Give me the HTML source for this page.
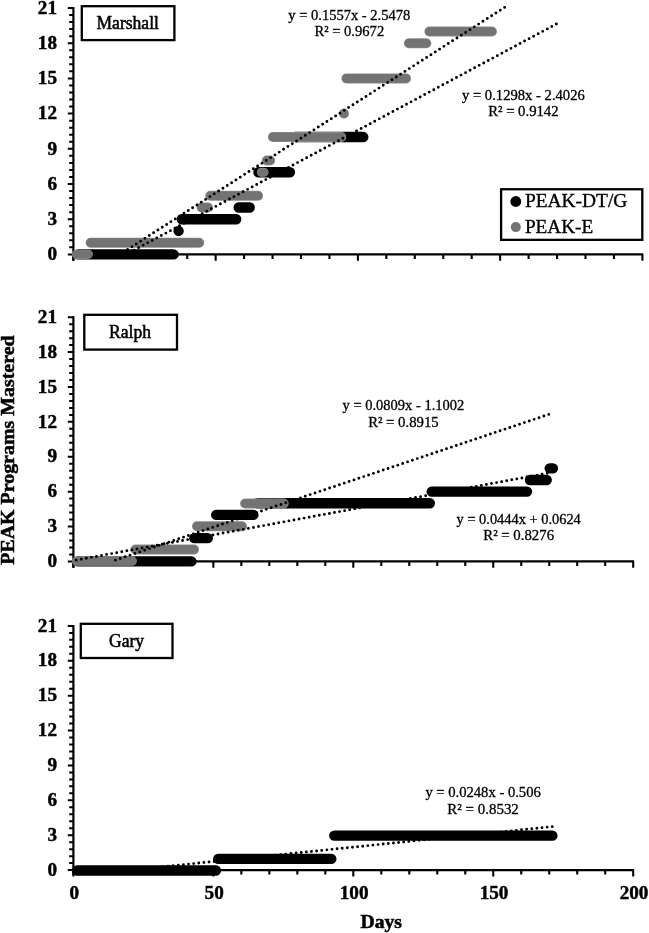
<!DOCTYPE html>
<html lang="en"><head><meta charset="utf-8"><title>PEAK Programs Mastered</title>
<style>html,body{margin:0;padding:0;background:#fff}svg{display:block}text{font-family:"Liberation Serif","Times New Roman",Times,serif;fill:#000}.b{font-weight:bold;font-size:18.8px;stroke:#000;stroke-width:.45px}.t{font-weight:bold;font-size:18.8px;stroke:#000;stroke-width:.5px}.n{font-size:18.5px;stroke:#000;stroke-width:.55px}.e{font-size:14.4px;stroke:#000;stroke-width:.3px}.l{font-size:19.5px;stroke:#000;stroke-width:.35px}</style>
</head><body>
<svg width="649" height="933" viewBox="0 0 649 933">
<rect width="649" height="933" fill="#fff"/>
<line x1="73.40" y1="7.10" x2="73.40" y2="260.80" stroke="#000" stroke-width="2.2"/>
<line x1="73.40" y1="254.40" x2="643.20" y2="254.40" stroke="#000" stroke-width="2.1"/>
<path d="M73.40 254.40h-5.6M73.40 247.36h-4.2M73.40 240.32h-4.2M73.40 233.28h-4.2M73.40 226.24h-4.2M73.40 219.20h-5.6M73.40 212.16h-4.2M73.40 205.12h-4.2M73.40 198.08h-4.2M73.40 191.04h-4.2M73.40 184.00h-5.6M73.40 176.96h-4.2M73.40 169.92h-4.2M73.40 162.88h-4.2M73.40 155.84h-4.2M73.40 148.80h-5.6M73.40 141.76h-4.2M73.40 134.72h-4.2M73.40 127.68h-4.2M73.40 120.64h-4.2M73.40 113.60h-5.6M73.40 106.56h-4.2M73.40 99.52h-4.2M73.40 92.48h-4.2M73.40 85.44h-4.2M73.40 78.40h-5.6M73.40 71.36h-4.2M73.40 64.32h-4.2M73.40 57.28h-4.2M73.40 50.24h-4.2M73.40 43.20h-5.6M73.40 36.16h-4.2M73.40 29.12h-4.2M73.40 22.08h-4.2M73.40 15.04h-4.2M73.40 8.00h-5.6" stroke="#000" stroke-width="2.0" fill="none"/>
<path d="M73.40 254.40v6.4M101.85 254.40v4.5M130.30 254.40v4.5M158.75 254.40v4.5M187.20 254.40v4.5M215.65 254.40v6.4M244.10 254.40v4.5M272.55 254.40v4.5M301.00 254.40v4.5M329.45 254.40v4.5M357.90 254.40v6.4M386.35 254.40v4.5M414.80 254.40v4.5M443.25 254.40v4.5M471.70 254.40v4.5M500.15 254.40v6.4M528.60 254.40v4.5M557.05 254.40v4.5M585.50 254.40v4.5M613.95 254.40v4.5M642.40 254.40v6.4" stroke="#000" stroke-width="2.1" fill="none"/>
<text transform="translate(57.00 260.10) scale(1.02 1)" text-anchor="end" class="b">0</text>
<text transform="translate(57.00 224.90) scale(1.02 1)" text-anchor="end" class="b">3</text>
<text transform="translate(57.00 189.70) scale(1.02 1)" text-anchor="end" class="b">6</text>
<text transform="translate(57.00 154.50) scale(1.02 1)" text-anchor="end" class="b">9</text>
<text transform="translate(57.00 119.30) scale(1.02 1)" text-anchor="end" class="b">12</text>
<text transform="translate(57.00 84.10) scale(1.02 1)" text-anchor="end" class="b">15</text>
<text transform="translate(57.00 48.90) scale(1.02 1)" text-anchor="end" class="b">18</text>
<text transform="translate(57.00 13.70) scale(1.02 1)" text-anchor="end" class="b">21</text>
<path d="M78.20 254.40H173.60M178.60 230.93H178.60M181.80 219.20H236.20M238.70 207.47H249.70M258.40 172.27H289.90M295.20 137.07H363.30" stroke="#000" stroke-width="10.4" stroke-linecap="round" fill="none"/>
<path d="M76.65 254.30H88.25" stroke="#8c8c8c" stroke-width="9.3" stroke-linecap="round" fill="none"/>
<path d="M76.65 254.30H88.25" stroke="#737373" stroke-width="7.9" stroke-linecap="round" fill="none"/>
<path d="M261.40 172.27H264.00" stroke="#8c8c8c" stroke-width="9.0" stroke-linecap="round" fill="none"/>
<path d="M261.40 172.27H264.00" stroke="#737373" stroke-width="7.6" stroke-linecap="round" fill="none"/>
<path d="M90.60 242.67H199.20M201.60 207.47H208.00M210.30 195.73H258.10M266.80 160.53H270.10M272.90 137.07H341.30M344.00 113.60H344.00M346.40 78.40H406.00M408.90 43.20H426.30M429.40 31.47H491.90" stroke="#8c8c8c" stroke-width="10.0" stroke-linecap="round" fill="none"/>
<path d="M90.60 242.67H199.20M201.60 207.47H208.00M210.30 195.73H258.10M266.80 160.53H270.10M272.90 137.07H341.30M344.00 113.60H344.00M346.40 78.40H406.00M408.90 43.20H426.30M429.40 31.47H491.90" stroke="#737373" stroke-width="8.6" stroke-linecap="round" fill="none"/>
<line x1="123.27" y1="252.27" x2="507.55" y2="5.51" stroke="#000" stroke-width="2.9" stroke-linecap="round" stroke-dasharray="0 5.15"/>
<line x1="129.56" y1="252.53" x2="558.19" y2="23.07" stroke="#000" stroke-width="2.9" stroke-linecap="round" stroke-dasharray="0 5.15"/>
<rect x="81.8" y="6.2" width="92.6" height="33.9" fill="#fff" stroke="#000" stroke-width="2.3"/>
<text transform="translate(127.70 28.50) scale(0.95 1)" text-anchor="middle" class="n">Marshall</text>
<text x="349.3" y="19.7" text-anchor="middle" class="e" textLength="122.0" lengthAdjust="spacingAndGlyphs">y = 0.1557x - 2.5478</text>
<text x="349.3" y="35.7" text-anchor="middle" class="e" textLength="69.8" lengthAdjust="spacingAndGlyphs">R² = 0.9672</text>
<text x="523.4" y="100.1" text-anchor="middle" class="e" textLength="122.8" lengthAdjust="spacingAndGlyphs">y = 0.1298x - 2.4026</text>
<text x="523.4" y="116.4" text-anchor="middle" class="e" textLength="70.3" lengthAdjust="spacingAndGlyphs">R² = 0.9142</text>
<rect x="501.1" y="189.25" width="141.2" height="50.6" fill="#fff" stroke="#000" stroke-width="2.3"/>
<circle cx="515.8" cy="201.5" r="5.45" fill="#000"/>
<circle cx="515.8" cy="227.1" r="5.0" fill="#737373"/>
<text x="524.9" y="207.4" class="l" textLength="102.5" lengthAdjust="spacingAndGlyphs">PEAK-DT/G</text>
<text x="524.9" y="232.9" class="l" textLength="68.3" lengthAdjust="spacingAndGlyphs">PEAK-E</text>
<line x1="73.40" y1="316.30" x2="73.40" y2="567.80" stroke="#000" stroke-width="2.2"/>
<line x1="73.40" y1="561.40" x2="634.00" y2="561.40" stroke="#000" stroke-width="2.1"/>
<path d="M73.40 561.40h-5.6M73.40 554.42h-4.2M73.40 547.45h-4.2M73.40 540.47h-4.2M73.40 533.49h-4.2M73.40 526.51h-5.6M73.40 519.54h-4.2M73.40 512.56h-4.2M73.40 505.58h-4.2M73.40 498.61h-4.2M73.40 491.63h-5.6M73.40 484.65h-4.2M73.40 477.67h-4.2M73.40 470.70h-4.2M73.40 463.72h-4.2M73.40 456.74h-5.6M73.40 449.77h-4.2M73.40 442.79h-4.2M73.40 435.81h-4.2M73.40 428.83h-4.2M73.40 421.86h-5.6M73.40 414.88h-4.2M73.40 407.90h-4.2M73.40 400.93h-4.2M73.40 393.95h-4.2M73.40 386.97h-5.6M73.40 379.99h-4.2M73.40 373.02h-4.2M73.40 366.04h-4.2M73.40 359.06h-4.2M73.40 352.09h-5.6M73.40 345.11h-4.2M73.40 338.13h-4.2M73.40 331.15h-4.2M73.40 324.18h-4.2M73.40 317.20h-5.6" stroke="#000" stroke-width="2.0" fill="none"/>
<path d="M73.40 561.40v6.4M101.39 561.40v4.5M129.38 561.40v4.5M157.37 561.40v4.5M185.36 561.40v4.5M213.35 561.40v6.4M241.34 561.40v4.5M269.33 561.40v4.5M297.32 561.40v4.5M325.31 561.40v4.5M353.30 561.40v6.4M381.29 561.40v4.5M409.28 561.40v4.5M437.27 561.40v4.5M465.26 561.40v4.5M493.25 561.40v6.4M521.24 561.40v4.5M549.23 561.40v4.5M577.22 561.40v4.5M605.21 561.40v4.5M633.20 561.40v6.4" stroke="#000" stroke-width="2.1" fill="none"/>
<text transform="translate(57.00 567.10) scale(1.02 1)" text-anchor="end" class="b">0</text>
<text transform="translate(57.00 532.21) scale(1.02 1)" text-anchor="end" class="b">3</text>
<text transform="translate(57.00 497.33) scale(1.02 1)" text-anchor="end" class="b">6</text>
<text transform="translate(57.00 462.44) scale(1.02 1)" text-anchor="end" class="b">9</text>
<text transform="translate(57.00 427.56) scale(1.02 1)" text-anchor="end" class="b">12</text>
<text transform="translate(57.00 392.67) scale(1.02 1)" text-anchor="end" class="b">15</text>
<text transform="translate(57.00 357.79) scale(1.02 1)" text-anchor="end" class="b">18</text>
<text transform="translate(57.00 322.90) scale(1.02 1)" text-anchor="end" class="b">21</text>
<path d="M78.20 561.40H191.40M194.30 538.14H207.80M216.20 514.89H253.40M257.70 503.26H429.80M431.70 491.63H527.00M530.00 480.00H546.70M549.70 468.37H552.90" stroke="#000" stroke-width="10.4" stroke-linecap="round" fill="none"/>
<path d="M76.75 561.00H132.15" stroke="#8c8c8c" stroke-width="9.5" stroke-linecap="round" fill="none"/>
<path d="M76.75 561.00H132.15" stroke="#737373" stroke-width="8.1" stroke-linecap="round" fill="none"/>
<path d="M135.50 549.57H194.00M197.00 526.31H242.00M245.10 503.46H283.70" stroke="#8c8c8c" stroke-width="10.0" stroke-linecap="round" fill="none"/>
<path d="M135.50 549.57H194.00M197.00 526.31H242.00M245.10 503.46H283.70" stroke="#737373" stroke-width="8.6" stroke-linecap="round" fill="none"/>
<line x1="115.39" y1="560.08" x2="550.07" y2="413.98" stroke="#000" stroke-width="2.9" stroke-linecap="round" stroke-dasharray="0 5.137"/>
<line x1="76.20" y1="560.16" x2="552.03" y2="472.39" stroke="#000" stroke-width="2.9" stroke-linecap="round" stroke-dasharray="0 5.15"/>
<rect x="84.3" y="314.8" width="92.7" height="34.8" fill="#fff" stroke="#000" stroke-width="2.3"/>
<text transform="translate(130.00 338.30) scale(0.95 1)" text-anchor="middle" class="n">Ralph</text>
<text x="403.4" y="410.3" text-anchor="middle" class="e" textLength="121.8" lengthAdjust="spacingAndGlyphs">y = 0.0809x - 1.1002</text>
<text x="403.4" y="426.5" text-anchor="middle" class="e" textLength="70.5" lengthAdjust="spacingAndGlyphs">R² = 0.8915</text>
<text x="518.7" y="523.9" text-anchor="middle" class="e" textLength="124.2" lengthAdjust="spacingAndGlyphs">y = 0.0444x + 0.0624</text>
<text x="518.7" y="539.9" text-anchor="middle" class="e" textLength="70.8" lengthAdjust="spacingAndGlyphs">R² = 0.8276</text>
<line x1="73.40" y1="625.00" x2="73.40" y2="875.30" stroke="#000" stroke-width="2.2"/>
<line x1="73.40" y1="870.10" x2="634.00" y2="870.10" stroke="#000" stroke-width="2.1"/>
<path d="M73.40 870.10h-5.6M73.40 863.12h-4.2M73.40 856.15h-4.2M73.40 849.17h-4.2M73.40 842.19h-4.2M73.40 835.21h-5.6M73.40 828.24h-4.2M73.40 821.26h-4.2M73.40 814.28h-4.2M73.40 807.31h-4.2M73.40 800.33h-5.6M73.40 793.35h-4.2M73.40 786.37h-4.2M73.40 779.40h-4.2M73.40 772.42h-4.2M73.40 765.44h-5.6M73.40 758.47h-4.2M73.40 751.49h-4.2M73.40 744.51h-4.2M73.40 737.53h-4.2M73.40 730.56h-5.6M73.40 723.58h-4.2M73.40 716.60h-4.2M73.40 709.63h-4.2M73.40 702.65h-4.2M73.40 695.67h-5.6M73.40 688.69h-4.2M73.40 681.72h-4.2M73.40 674.74h-4.2M73.40 667.76h-4.2M73.40 660.79h-5.6M73.40 653.81h-4.2M73.40 646.83h-4.2M73.40 639.85h-4.2M73.40 632.88h-4.2M73.40 625.90h-5.6" stroke="#000" stroke-width="2.0" fill="none"/>
<path d="M73.40 870.10v6.4M101.39 870.10v4.5M129.38 870.10v4.5M157.37 870.10v4.5M185.36 870.10v4.5M213.35 870.10v6.4M241.34 870.10v4.5M269.33 870.10v4.5M297.32 870.10v4.5M325.31 870.10v4.5M353.30 870.10v6.4M381.29 870.10v4.5M409.28 870.10v4.5M437.27 870.10v4.5M465.26 870.10v4.5M493.25 870.10v6.4M521.24 870.10v4.5M549.23 870.10v4.5M577.22 870.10v4.5M605.21 870.10v4.5M633.20 870.10v6.4" stroke="#000" stroke-width="2.1" fill="none"/>
<text transform="translate(57.00 875.80) scale(1.02 1)" text-anchor="end" class="b">0</text>
<text transform="translate(57.00 840.91) scale(1.02 1)" text-anchor="end" class="b">3</text>
<text transform="translate(57.00 806.03) scale(1.02 1)" text-anchor="end" class="b">6</text>
<text transform="translate(57.00 771.14) scale(1.02 1)" text-anchor="end" class="b">9</text>
<text transform="translate(57.00 736.26) scale(1.02 1)" text-anchor="end" class="b">12</text>
<text transform="translate(57.00 701.37) scale(1.02 1)" text-anchor="end" class="b">15</text>
<text transform="translate(57.00 666.49) scale(1.02 1)" text-anchor="end" class="b">18</text>
<text transform="translate(57.00 631.60) scale(1.02 1)" text-anchor="end" class="b">21</text>
<path d="M77.20 870.55H215.90M218.20 858.92H331.30M334.30 835.66H552.40" stroke="#000" stroke-width="10.4" stroke-linecap="round" fill="none"/>
<line x1="132.18" y1="869.93" x2="552.59" y2="826.61" stroke="#000" stroke-width="2.9" stroke-linecap="round" stroke-dasharray="0 5.15"/>
<rect x="80.8" y="623.8" width="91.7" height="34.2" fill="#fff" stroke="#000" stroke-width="2.3"/>
<text transform="translate(126.50 646.70) scale(0.95 1)" text-anchor="middle" class="n">Gary</text>
<text x="483.1" y="797.3" text-anchor="middle" class="e" textLength="115.4" lengthAdjust="spacingAndGlyphs">y = 0.0248x - 0.506</text>
<text x="483.1" y="813.7" text-anchor="middle" class="e" textLength="71.5" lengthAdjust="spacingAndGlyphs">R² = 0.8532</text>
<text transform="translate(74.20 898.60) scale(1.02 1)" text-anchor="middle" class="b">0</text>
<text transform="translate(214.15 898.60) scale(1.02 1)" text-anchor="middle" class="b">50</text>
<text transform="translate(354.10 898.60) scale(1.02 1)" text-anchor="middle" class="b">100</text>
<text transform="translate(494.05 898.60) scale(1.02 1)" text-anchor="middle" class="b">150</text>
<text transform="translate(634.00 898.60) scale(1.02 1)" text-anchor="middle" class="b">200</text>
<text transform="translate(381.20 927.50) scale(1.045 1)" text-anchor="middle" class="t">Days</text>
<text transform="translate(14.10 450.10) rotate(-90) scale(1.06 1)" text-anchor="middle" class="t">PEAK Programs Mastered</text>
</svg></body></html>
